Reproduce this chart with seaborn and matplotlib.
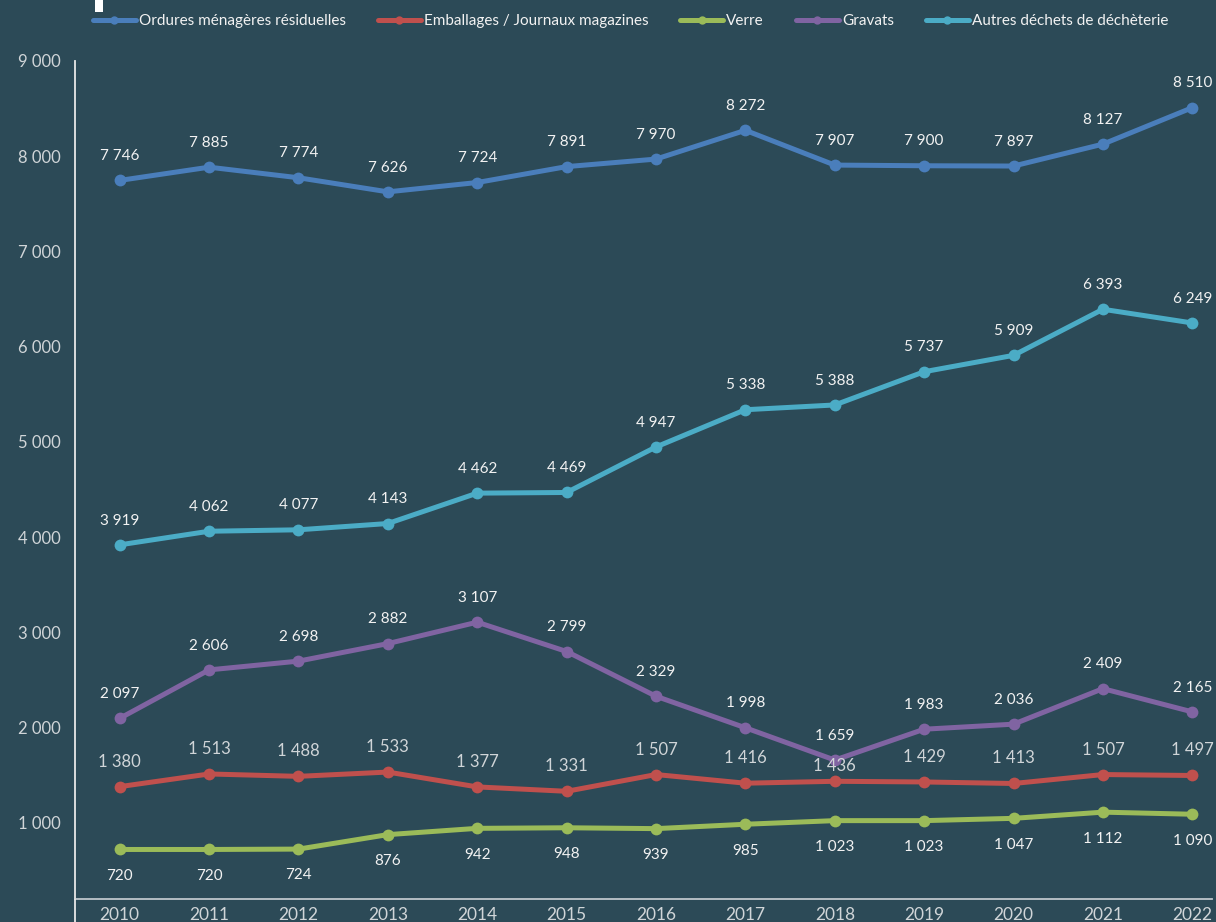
import numpy as np
import pandas as pd
import matplotlib.pyplot as plt
import seaborn as sns
from matplotlib.patches import Rectangle
from matplotlib.lines import Line2D

years = list(range(2010, 2023))
ordures = [7746, 7885, 7774, 7626, 7724, 7891, 7970, 8272, 7907, 7900, 7897, 8127, 8510]
emballages = [1380, 1513, 1488, 1533, 1377, 1331, 1507, 1416, 1436, 1429, 1413, 1507, 1497]
verre = [720, 720, 724, 876, 942, 948, 939, 985, 1023, 1023, 1047, 1112, 1090]
gravats = [2097, 2606, 2698, 2882, 3107, 2799, 2329, 1998, 1659, 1983, 2036, 2409, 2165]
autres = [3919, 4062, 4077, 4143, 4462, 4469, 4947, 5338, 5388, 5737, 5909, 6393, 6249]

series_names = ["Ordures ménagères résiduelles", "Emballages / Journaux magazines",
                "Verre", "Gravats", "Autres déchets de déchèterie"]
series_values = [ordures, emballages, verre, gravats, autres]
colors = ["#4a7ebb", "#c0504d", "#9bbb59", "#8064a2", "#4bacc6"]

bg = "#2c4a57"

# long format for seaborn
rows = []
for name, vals in zip(series_names, series_values):
    for y, v in zip(years, vals):
        rows.append({"annee": y, "tonnage": v, "flux": name})
df = pd.DataFrame(rows)

sns.set_theme(style="white")
plt.rcParams['font.family'] = ['Lato', 'DejaVu Sans']

fig = plt.figure(figsize=(12.16, 9.22), dpi=100, facecolor=bg)
ax = fig.add_axes([75 / 1216, 23 / 922, (1212 - 75) / 1216, (899 - 61) / 922])
ax.set_facecolor(bg)

sns.lineplot(data=df, x="annee", y="tonnage", hue="flux", hue_order=series_names,
             palette=colors, marker="o", markersize=8.5, markeredgewidth=0,
             linewidth=3.6, ax=ax)

ax.set_xlim(2009.5, 2022.22)
ax.set_ylim(200, 9000)
ax.set_xticks(years)
ax.set_yticks(range(1000, 9001, 1000))
ax.set_yticklabels([f"{v:,}".replace(",", " ") for v in range(1000, 9001, 1000)])
ax.set_xlabel("")
ax.set_ylabel("")
ax.tick_params(axis="y", length=0, pad=10, labelsize=12, labelcolor="#d0d5d8")
ax.tick_params(axis="x", length=0, pad=6, labelsize=12.5, labelcolor="#d0d5d8")

for side in ["top", "right"]:
    ax.spines[side].set_visible(False)
ax.spines["left"].set_color("#e8e8e8")
ax.spines["left"].set_linewidth(1.3)
ax.spines["bottom"].set_color("#bfc7cc")
ax.spines["bottom"].set_linewidth(1.3)
# y axis line runs on below the category axis
fig.add_artist(Line2D([75 / 1216, 75 / 1216], [0, 23 / 922], color="#e8e8e8", lw=1.3))

# data labels
for name, vals in zip(series_names, series_values):
    for y, v in zip(years, vals):
        txt = f"{v:,}".replace(",", " ")
        if name == "Verre":
            ax.annotate(txt, (y, v), xytext=(0, -19), textcoords="offset points",
                        ha="center", va="center", fontsize=11, color="#f2f2f2")
        elif name.startswith("Emballages"):
            off = 11 if y == 2018 else 18
            ax.annotate(txt, (y, v), xytext=(0, off), textcoords="offset points",
                        ha="center", va="center", fontsize=12, color="#d0d5d8")
        else:
            ax.annotate(txt, (y, v), xytext=(0, 17.5), textcoords="offset points",
                        ha="center", va="center", fontsize=11, color="#f2f2f2")

sns.move_legend(ax, "center left", bbox_to_anchor=(93 / 1216, 1 - 21 / 922),
                bbox_transform=fig.transFigure, ncol=5, frameon=False, title=None,
                fontsize=11, handlelength=2.8, handletextpad=0.2,
                columnspacing=2.1, borderpad=0, borderaxespad=0)
for t in ax.get_legend().get_texts():
    t.set_color("#f2f2f2")
for h in ax.get_legend().legend_handles:
    h.set_markersize(6)
    h.set_linewidth(3.6)

# small white mark at the top left
fig.add_artist(Rectangle((95 / 1216, 1 - 12 / 922), 8 / 1216, 12 / 922,
                         transform=fig.transFigure, color="white", lw=0))

fig.savefig("out.png", dpi=100, facecolor=bg)
